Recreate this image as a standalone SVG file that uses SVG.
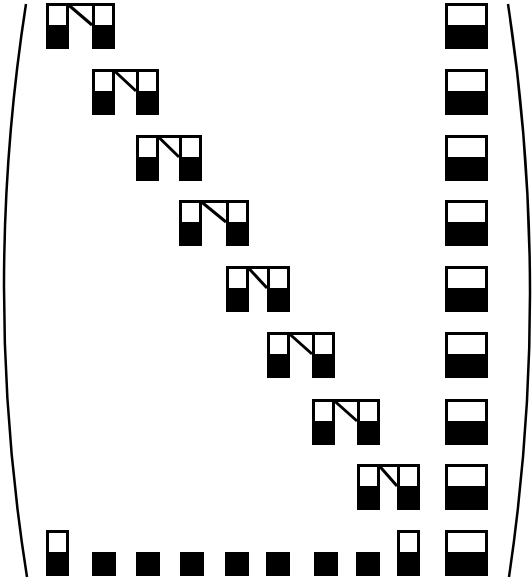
<svg xmlns="http://www.w3.org/2000/svg" width="532" height="580" viewBox="0 0 532 580">
<style>
.box{fill:#fff;stroke:#000;stroke-width:3}
.blk{fill:#000}
.conn{stroke:#000;stroke-width:3;fill:none}
.br{stroke:#000;stroke-width:2.5;fill:none}
</style>
<defs>
<g id="sb"><rect class="box" x="1.5" y="1.5" width="20" height="43"/><rect class="blk" x="0" y="22" width="23" height="24"/></g>
<g id="wb"><rect class="box" x="1.5" y="1.5" width="40" height="43"/><rect class="blk" x="0" y="22" width="43" height="24"/></g>
<rect id="bk" class="blk" x="0" y="22" width="24" height="24"/>
</defs>
<rect width="532" height="580" fill="#fff"/>
<g id="brackets">
<path class="br" d="M26,4 Q-18.5,290 27,577"/>
<path class="br" d="M508,4 Q551.5,290 509,577"/>
</g>
<g id="connectors">
<path class="conn" d="M68,4.5 H92 M68,4.5 L92,25"/>
<path class="conn" d="M114,70.5 H136 M114,70.5 L136,91"/>
<path class="conn" d="M158,136.5 H179 M158,136.5 L179,157"/>
<path class="conn" d="M201,201.5 H226 M201,201.5 L226,222"/>
<path class="conn" d="M248,267.5 H267 M248,267.5 L267,288"/>
<path class="conn" d="M289,333.5 H312 M289,333.5 L312,354"/>
<path class="conn" d="M334,400.5 H357 M334,400.5 L357,421"/>
<path class="conn" d="M379,465.5 H397 M379,465.5 L397,486"/>
</g>
<g id="r0a"><use href="#sb" x="46" y="3"/></g><g id="r0b"><use href="#sb" x="92" y="3"/></g>
<g id="r1a"><use href="#sb" x="92" y="69"/></g><g id="r1b"><use href="#sb" x="136" y="69"/></g>
<g id="r2a"><use href="#sb" x="136" y="135"/></g><g id="r2b"><use href="#sb" x="179" y="135"/></g>
<g id="r3a"><use href="#sb" x="179" y="200"/></g><g id="r3b"><use href="#sb" x="226" y="200"/></g>
<g id="r4a"><use href="#sb" x="226" y="266"/></g><g id="r4b"><use href="#sb" x="267" y="266"/></g>
<g id="r5a"><use href="#sb" x="267" y="332"/></g><g id="r5b"><use href="#sb" x="312" y="332"/></g>
<g id="r6a"><use href="#sb" x="312" y="399"/></g><g id="r6b"><use href="#sb" x="357" y="399"/></g>
<g id="r7a"><use href="#sb" x="357" y="464"/></g><g id="r7b"><use href="#sb" x="397" y="464"/></g>
<g id="c0"><use href="#wb" x="445" y="3"/></g>
<g id="c1"><use href="#wb" x="445" y="69"/></g>
<g id="c2"><use href="#wb" x="445" y="135"/></g>
<g id="c3"><use href="#wb" x="445" y="200"/></g>
<g id="c4"><use href="#wb" x="445" y="266"/></g>
<g id="c5"><use href="#wb" x="445" y="332"/></g>
<g id="c6"><use href="#wb" x="445" y="399"/></g>
<g id="c7"><use href="#wb" x="445" y="464"/></g>
<g id="c8"><use href="#wb" x="445" y="530"/></g>
<g id="b0"><use href="#sb" x="46" y="530"/></g>
<g id="b1"><use href="#bk" x="92" y="530"/></g>
<g id="b2"><use href="#bk" x="136" y="530"/></g>
<g id="b3"><use href="#bk" x="180" y="530"/></g>
<g id="b4"><use href="#bk" x="225" y="530"/></g>
<g id="b5"><use href="#bk" x="266" y="530"/></g>
<g id="b6"><use href="#bk" x="314" y="530"/></g>
<g id="b7"><use href="#bk" x="356" y="530"/></g>
<g id="b8"><use href="#sb" x="397" y="530"/></g>
</svg>
